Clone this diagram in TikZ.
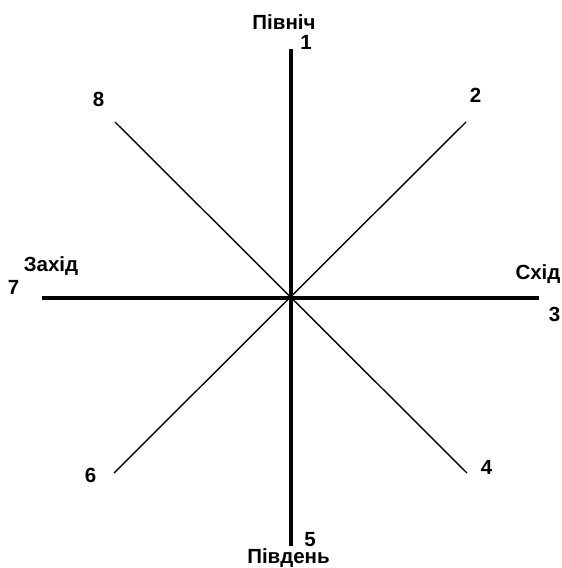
\documentclass[tikz,border=0pt]{standalone}
\usepackage{fontspec}
\setmainfont{Liberation Sans}
\begin{document}
\begin{tikzpicture}[x=1pt,y=-1pt,
  lbl/.style={inner sep=0pt,anchor=base,font=\fontsize{20.5}{20.5}\selectfont\bfseries},
  axis/.style={line width=4pt,line cap=butt},
  diag/.style={line width=1.4pt}]
\useasboundingbox (0,0) rectangle (562,568);
\coordinate (O) at (290.5,297.5);
\coordinate (N) at (290.5,49);
\coordinate (S) at (290.5,545.5);
\coordinate (W) at (42,297.5);
\coordinate (E) at (539,297.5);
\coordinate (NE) at (466,122);
\coordinate (NW) at (115,122);
\coordinate (SE) at (467,473);
\coordinate (SW) at (114,473);
\draw[diag] (NW) -- (SE);
\draw[diag] (NE) -- (SW);
\draw[axis] (N) -- (S);
\draw[axis] (W) -- (E);
\node[lbl] (tN) at (284,29.5) {Північ};
\node[lbl] (l1) at (306,49) {1};
\node[lbl] (l2) at (475.5,102) {2};
\node[lbl] (tE) at (538,279) {Схід};
\node[lbl] (l3) at (554.5,321) {3};
\node[lbl] (l4) at (486.5,474) {4};
\node[lbl] (l5) at (310,546) {5};
\node[lbl] (tS) at (288.5,563.5) {Південь};
\node[lbl] (l6) at (90.5,482) {6};
\node[lbl] (tW) at (51,271) {Захід};
\node[lbl] (l7) at (13.5,294) {7};
\node[lbl] (l8) at (98.5,106) {8};
\end{tikzpicture}
\end{document}
